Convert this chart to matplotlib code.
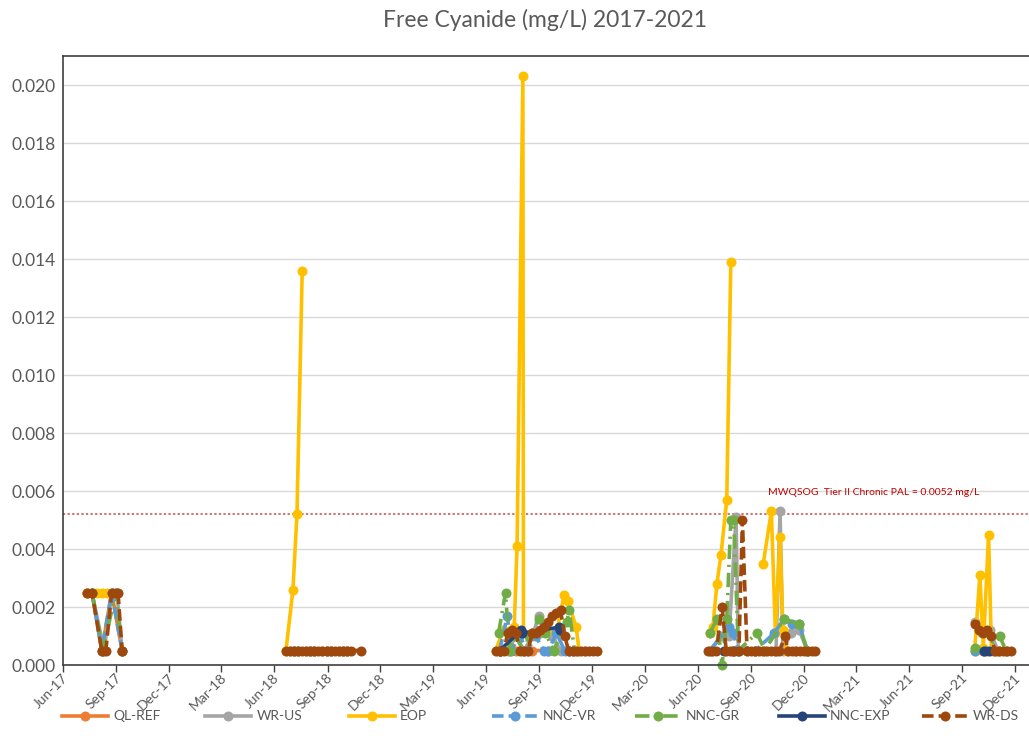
import numpy as np
import pandas as pd
import matplotlib
matplotlib.use("Agg")
import matplotlib.pyplot as plt
import matplotlib.transforms as mtransforms
from matplotlib.lines import Line2D

plt.rcParams['font.family'] = ['Lato', 'DejaVu Sans']

NA = np.nan

# ---- data: sampling dates and free cyanide (mg/L); NaN marks a gap between campaigns ----
ql_ref_dates = ["2017-07-12", "2017-07-21", "2017-08-07", "2017-08-24", "2017-09-11", "2018-01-01",
                "2018-07-05", "2018-08-02", "2018-08-30", "2018-09-27", "2019-01-01",
                "2019-06-25", "2019-07-23", "2019-08-20", "2019-09-17", "2019-10-22", "2020-01-01",
                "2020-06-26", "2020-07-31", "2020-09-07", "2020-10-14", "2020-11-16", "2021-01-01",
                "2021-10-06", "2021-11-03"]
ql_ref_vals = [0.0025, 0.0025, 0.0005, 0.0025, 0.0005, NA,
               0.0005, 0.0005, 0.0005, 0.0005, NA,
               0.0005, 0.0005, 0.0005, 0.0005, 0.0005, NA,
               0.0005, 0.0005, 0.0005, 0.0005, 0.0005, NA,
               0.0005, 0.0005]

wr_us_dates = ["2017-07-12", "2017-07-21", "2017-08-11", "2017-08-24", "2017-09-02", "2017-09-11", "2018-01-01",
               "2018-06-28", "2018-07-12", "2018-07-26", "2018-08-09", "2018-08-23", "2018-09-06", "2018-09-20",
               "2018-10-04", "2019-01-01",
               "2019-06-25", "2019-07-09", "2019-07-23", "2019-08-06", "2019-08-20", "2019-09-01", "2019-09-10",
               "2019-09-24", "2019-10-08", "2019-10-22", "2019-11-05", "2019-11-19", "2020-01-01",
               "2020-06-22", "2020-07-11", "2020-07-25", "2020-08-06", "2020-08-10", "2020-08-25", "2020-09-08",
               "2020-09-22", "2020-10-14", "2020-10-21", "2020-10-26", "2020-11-09", "2020-11-23", "2020-12-07",
               "2021-01-01",
               "2021-09-22", "2021-10-04", "2021-10-18", "2021-11-01", "2021-11-15"]
wr_us_vals = [0.0025, 0.0025, 0.0005, 0.0025, 0.0025, 0.0005, NA,
              0.0005, 0.0005, 0.0005, 0.0005, 0.0005, 0.0005, 0.0005, 0.0005, NA,
              0.0005, 0.0005, 0.0010, 0.0005, 0.0010, 0.0017, 0.0012, 0.0010, 0.0005, 0.0005, 0.0005, 0.0005, NA,
              0.0005, 0.0010, 0.0010, 0.0051, 0.0005, 0.0005, 0.0005, 0.0005, 0.0005, 0.0053, 0.0005, 0.0011,
              0.0012, 0.0005, NA,
              0.0015, 0.0011, 0.0012, 0.0005, 0.0005]

eop_dates = ["2017-07-12", "2017-07-21", "2017-07-29", "2017-08-07", "2017-08-16", "2018-01-01",
             "2018-06-21", "2018-07-03", "2018-07-10", "2018-07-19", "2019-01-01",
             "2019-06-18", "2019-07-01", "2019-07-20", "2019-07-25", "2019-08-04", "2019-08-05", "2019-08-20",
             "2019-09-03", "2019-09-17", "2019-10-01", "2019-10-14", "2019-10-21", "2019-11-04", "2019-11-09",
             "2020-01-01",
             "2020-06-22", "2020-06-27", "2020-07-04", "2020-07-11", "2020-07-21", "2020-07-28", "2020-08-30",
             "2020-09-22", "2020-10-06", "2020-10-13", "2020-10-21", "2020-10-26", "2020-11-02", "2021-01-01",
             "2021-09-22", "2021-10-01", "2021-10-07", "2021-10-16", "2021-10-21", "2021-10-27"]
eop_vals = [0.0025, 0.0025, 0.0025, 0.0025, 0.0025, NA,
            0.0005, 0.0026, 0.0052, 0.0136, NA,
            0.0005, 0.0012, 0.0013, 0.0041, 0.0203, 0.0011, 0.0011, 0.0011, 0.0012, 0.0011, 0.0024, 0.0022,
            0.0013, 0.0005, NA,
            0.0011, 0.0013, 0.0028, 0.0038, 0.0057, 0.0139, NA,
            0.0035, 0.0053, 0.0011, 0.0044, 0.0012, 0.0005, NA,
            0.0005, 0.0031, 0.0006, 0.0045, 0.0005, 0.0005]

nnc_vr_dates = ["2017-07-21", "2017-08-07", "2017-08-24", "2017-09-11", "2018-01-01",
                "2018-07-05", "2018-08-02", "2018-08-30", "2018-09-27", "2019-01-01",
                "2019-06-25", "2019-07-08", "2019-07-15", "2019-07-29", "2019-08-12", "2019-08-26", "2019-09-09",
                "2019-09-17", "2019-10-01", "2019-10-15", "2019-10-29", "2020-01-01",
                "2020-06-22", "2020-07-25", "2020-08-01", "2020-08-10", "2020-09-08", "2020-10-11", "2020-10-28",
                "2020-11-11", "2020-11-23", "2020-12-07", "2021-01-01",
                "2021-09-22", "2021-10-12", "2021-10-26"]
nnc_vr_vals = [0.0025, 0.0005, 0.0025, 0.0005, NA,
               0.0005, 0.0005, 0.0005, 0.0005, NA,
               0.0005, 0.0017, 0.0005, 0.0010, 0.0005, 0.0010, 0.0005, 0.0005, 0.0011, 0.0005, 0.0005, NA,
               0.0005, 0.0013, 0.0011, 0.0005, 0.0005, 0.0011, 0.0016, 0.0014, 0.0014, 0.0005, NA,
               0.0005, 0.0005, 0.0005]

nnc_gr_dates = ["2017-07-21", "2017-08-09", "2017-08-31", "2017-09-11", "2018-01-01",
                "2018-07-12", "2018-08-09", "2018-09-06", "2018-10-04", "2019-01-01",
                "2019-06-23", "2019-07-05", "2019-07-12", "2019-07-22", "2019-08-05", "2019-08-15", "2019-09-01",
                "2019-09-12", "2019-09-26", "2019-10-19", "2019-10-23", "2019-11-01", "2020-01-01",
                "2020-06-22", "2020-07-04", "2020-07-13", "2020-07-21", "2020-07-28", "2020-08-02", "2020-08-10",
                "2020-09-11", "2020-09-25", "2020-10-28", "2020-11-23", "2020-12-07", "2021-01-01",
                "2021-09-22", "2021-10-08", "2021-11-04", "2021-11-15"]
nnc_gr_vals = [0.0025, 0.0005, 0.0025, 0.0005, NA,
               0.0005, 0.0005, 0.0005, 0.0005, NA,
               0.0011, 0.0025, 0.0005, 0.0010, 0.0005, 0.0010, 0.0016, 0.0011, 0.0005, 0.0015, 0.0019, 0.0005, NA,
               0.0011, 0.0016, 0.0000, 0.0016, 0.0050, 0.0050, 0.0005, 0.0011, 0.0005, 0.0016, 0.0014, 0.0005, NA,
               0.0006, 0.0005, 0.0010, 0.0005]

nnc_exp_dates = ["2019-06-25", "2019-08-01", "2019-08-03", "2019-10-05", "2019-10-07", "2020-01-01",
                 "2020-07-17", "2020-07-31", "2021-01-01",
                 "2021-10-08", "2021-10-16"]
nnc_exp_vals = [0.0005, 0.0012, 0.0011, 0.0013, 0.0012, NA,
                0.0005, 0.0005, NA,
                0.0005, 0.0005]

wr_ds_dates = ["2017-07-12", "2017-07-21", "2017-08-07", "2017-08-14", "2017-08-24", "2017-08-31", "2017-09-04",
               "2017-09-11", "2018-01-01",
               "2018-06-21", "2018-06-28", "2018-07-05", "2018-07-12", "2018-07-19", "2018-07-26", "2018-08-02",
               "2018-08-09", "2018-08-16", "2018-08-23", "2018-08-30", "2018-09-06", "2018-09-13", "2018-09-20",
               "2018-09-27", "2018-10-04", "2018-10-11", "2018-10-29", "2019-01-01",
               "2019-06-18", "2019-06-25", "2019-07-02", "2019-07-09", "2019-07-16", "2019-07-23", "2019-07-30",
               "2019-08-06", "2019-08-13", "2019-08-20", "2019-08-27", "2019-09-03", "2019-09-10", "2019-09-17",
               "2019-09-24", "2019-10-01", "2019-10-08", "2019-10-15", "2019-10-22", "2019-10-29", "2019-11-05",
               "2019-11-12", "2019-11-19", "2019-11-26", "2019-12-03", "2019-12-10", "2020-01-01",
               "2020-06-19", "2020-06-26", "2020-07-03", "2020-07-13", "2020-07-20", "2020-07-27", "2020-08-03",
               "2020-08-11", "2020-08-17", "2020-08-25", "2020-09-01", "2020-09-08", "2020-09-15", "2020-09-22",
               "2020-09-29", "2020-10-06", "2020-10-13", "2020-10-20", "2020-10-30", "2020-11-03", "2020-11-10",
               "2020-11-17", "2020-11-24", "2020-12-01", "2020-12-08", "2020-12-15", "2020-12-21", "2021-01-01",
               "2021-09-22", "2021-09-29", "2021-10-06", "2021-10-13", "2021-10-20", "2021-10-27", "2021-11-03",
               "2021-11-10", "2021-11-17", "2021-11-24"]
wr_ds_vals = [0.0025, 0.0025, 0.0005, 0.0005, 0.0025, 0.0025, 0.0025, 0.0005, NA,
              0.0005, 0.0005, 0.0005, 0.0005, 0.0005, 0.0005, 0.0005, 0.0005, 0.0005, 0.0005, 0.0005, 0.0005,
              0.0005, 0.0005, 0.0005, 0.0005, 0.0005, 0.0005, NA,
              0.0005, 0.0005, 0.0005, 0.0011, 0.0012, 0.0011, 0.0005, 0.0005, 0.0005, 0.0011, 0.0011, 0.0012,
              0.0013, 0.0015, 0.0017, 0.0018, 0.0019, 0.0010, 0.0005, 0.0005, 0.0005, 0.0005, 0.0005, 0.0005,
              0.0005, 0.0005, NA,
              0.0005, 0.0005, 0.0005, 0.0020, 0.0005, 0.0005, 0.0005, 0.0005, 0.0050, 0.0005, 0.0005, 0.0005,
              0.0005, 0.0005, 0.0005, 0.0005, 0.0005, 0.0005, 0.0010, 0.0005, 0.0005, 0.0005, 0.0005, 0.0005,
              0.0005, 0.0005, 0.0005, NA,
              0.0014, 0.0012, 0.0011, 0.0012, 0.0010, 0.0005, 0.0005, 0.0005, 0.0005, 0.0005]

series_names = ["QL-REF", "WR-US", "EOP", "NNC-VR", "NNC-GR", "NNC-EXP", "WR-DS"]
series_dates = [ql_ref_dates, wr_us_dates, eop_dates, nnc_vr_dates, nnc_gr_dates, nnc_exp_dates, wr_ds_dates]
series_vals = [ql_ref_vals, wr_us_vals, eop_vals, nnc_vr_vals, nnc_gr_vals, nnc_exp_vals, wr_ds_vals]

pal_value = 0.0052
pal_label = "MWQSOG  Tier II Chronic PAL = 0.0052 mg/L"
title = "Free Cyanide (mg/L) 2017-2021"
tick_dates = ["2017-06-01", "2017-09-01", "2017-12-01", "2018-03-01", "2018-06-01", "2018-09-01",
              "2018-12-01", "2019-03-01", "2019-06-01", "2019-09-01", "2019-12-01", "2020-03-01",
              "2020-06-01", "2020-09-01", "2020-12-01", "2021-03-01", "2021-06-01", "2021-09-01",
              "2021-12-01"]

# ---- styles ----
colors = ["#ED7D31", "#A5A5A5", "#FFC000", "#5B9BD5", "#70AD47", "#264478", "#9E480E"]
dash_styles = ["-", "-", "-", (0, (3.2, 1.4)), (0, (4.0, 1.6, 0.6, 1.6)), "-", (0, (3.2, 1.4))]
LW = 2.6
MS = 7.2
TXT = "#595959"

W, H = 1029, 751
fig = plt.figure(figsize=(W / 100, H / 100), dpi=100)
x0 = pd.Timestamp("2017-06-01")
x1 = pd.Timestamp("2022-01-15")
px_per_day = 0.5792
ax_w_px = (x1 - x0).days * px_per_day
ax = fig.add_axes([63 / W, 1 - 665 / H, ax_w_px / W, (665 - 56) / H])

for name, d, v, c, ls in zip(series_names, series_dates, series_vals, colors, dash_styles):
    ax.plot(pd.to_datetime(d), np.array(v, dtype=float), color=c, lw=LW, linestyle=ls,
            marker="o", ms=MS, mec=c, mfc=c, mew=0, solid_capstyle="round",
            dash_capstyle="butt", label=name, clip_on=False)

# guideline
ax.axhline(pal_value, color="#C0504D", lw=1.1, linestyle=(0, (1.5, 1.5)), zorder=1)
ax.text(pd.Timestamp("2020-09-30"), pal_value + 0.0006, pal_label, color="#C00000",
        fontsize=7.5, va="bottom", ha="left")

ax.set_xlim(x0, x1)
ax.set_ylim(0, 0.021)
ax.set_yticks(np.arange(0, 0.0201, 0.002))
ax.yaxis.set_major_formatter(matplotlib.ticker.FormatStrFormatter("%.3f"))
tick_ts = pd.to_datetime(tick_dates)
ax.set_xticks(tick_ts)
ax.set_xticklabels([])
ax.grid(axis="y", color="#D9D9D9", lw=1)
ax.set_axisbelow(True)
ax.tick_params(axis="y", length=0, labelsize=12.5, labelcolor=TXT, pad=5)
ax.tick_params(axis="x", length=5, width=1, color="#404040")
for sp in ax.spines.values():
    sp.set_color("#404040")
    sp.set_linewidth(1.2)

# rotated date labels hanging below each tick
lab_tr = mtransforms.blended_transform_factory(ax.transData, ax.transAxes) + \
    mtransforms.ScaledTranslation(3 / 100, -11 / 100, fig.dpi_scale_trans)
for t in tick_ts:
    ax.text(t, 0, t.strftime("%b-%y"), transform=lab_tr, rotation=45, rotation_mode="anchor",
            ha="right", va="center", fontsize=10, color=TXT, clip_on=False)

fig.text(545 / W, 1 - 20 / H, title, ha="center", va="center", fontsize=16.5, color=TXT)

# legend row along the bottom
leg_y = 1 - 716 / H
for i, (name, c, ls) in enumerate(zip(series_names, colors, dash_styles)):
    lx = 62 + i * 143.3
    fig.add_artist(Line2D([lx / W, (lx + 46) / W], [leg_y, leg_y], transform=fig.transFigure,
                          color=c, lw=LW, linestyle=ls, dash_capstyle="butt"))
    fig.add_artist(Line2D([(lx + 23) / W], [leg_y], transform=fig.transFigure, color=c,
                          marker="o", ms=MS, mew=0, linestyle="none"))
    fig.text((lx + 51) / W, leg_y, name, ha="left", va="center", fontsize=10, color=TXT)

fig.savefig("out.png", dpi=100)
